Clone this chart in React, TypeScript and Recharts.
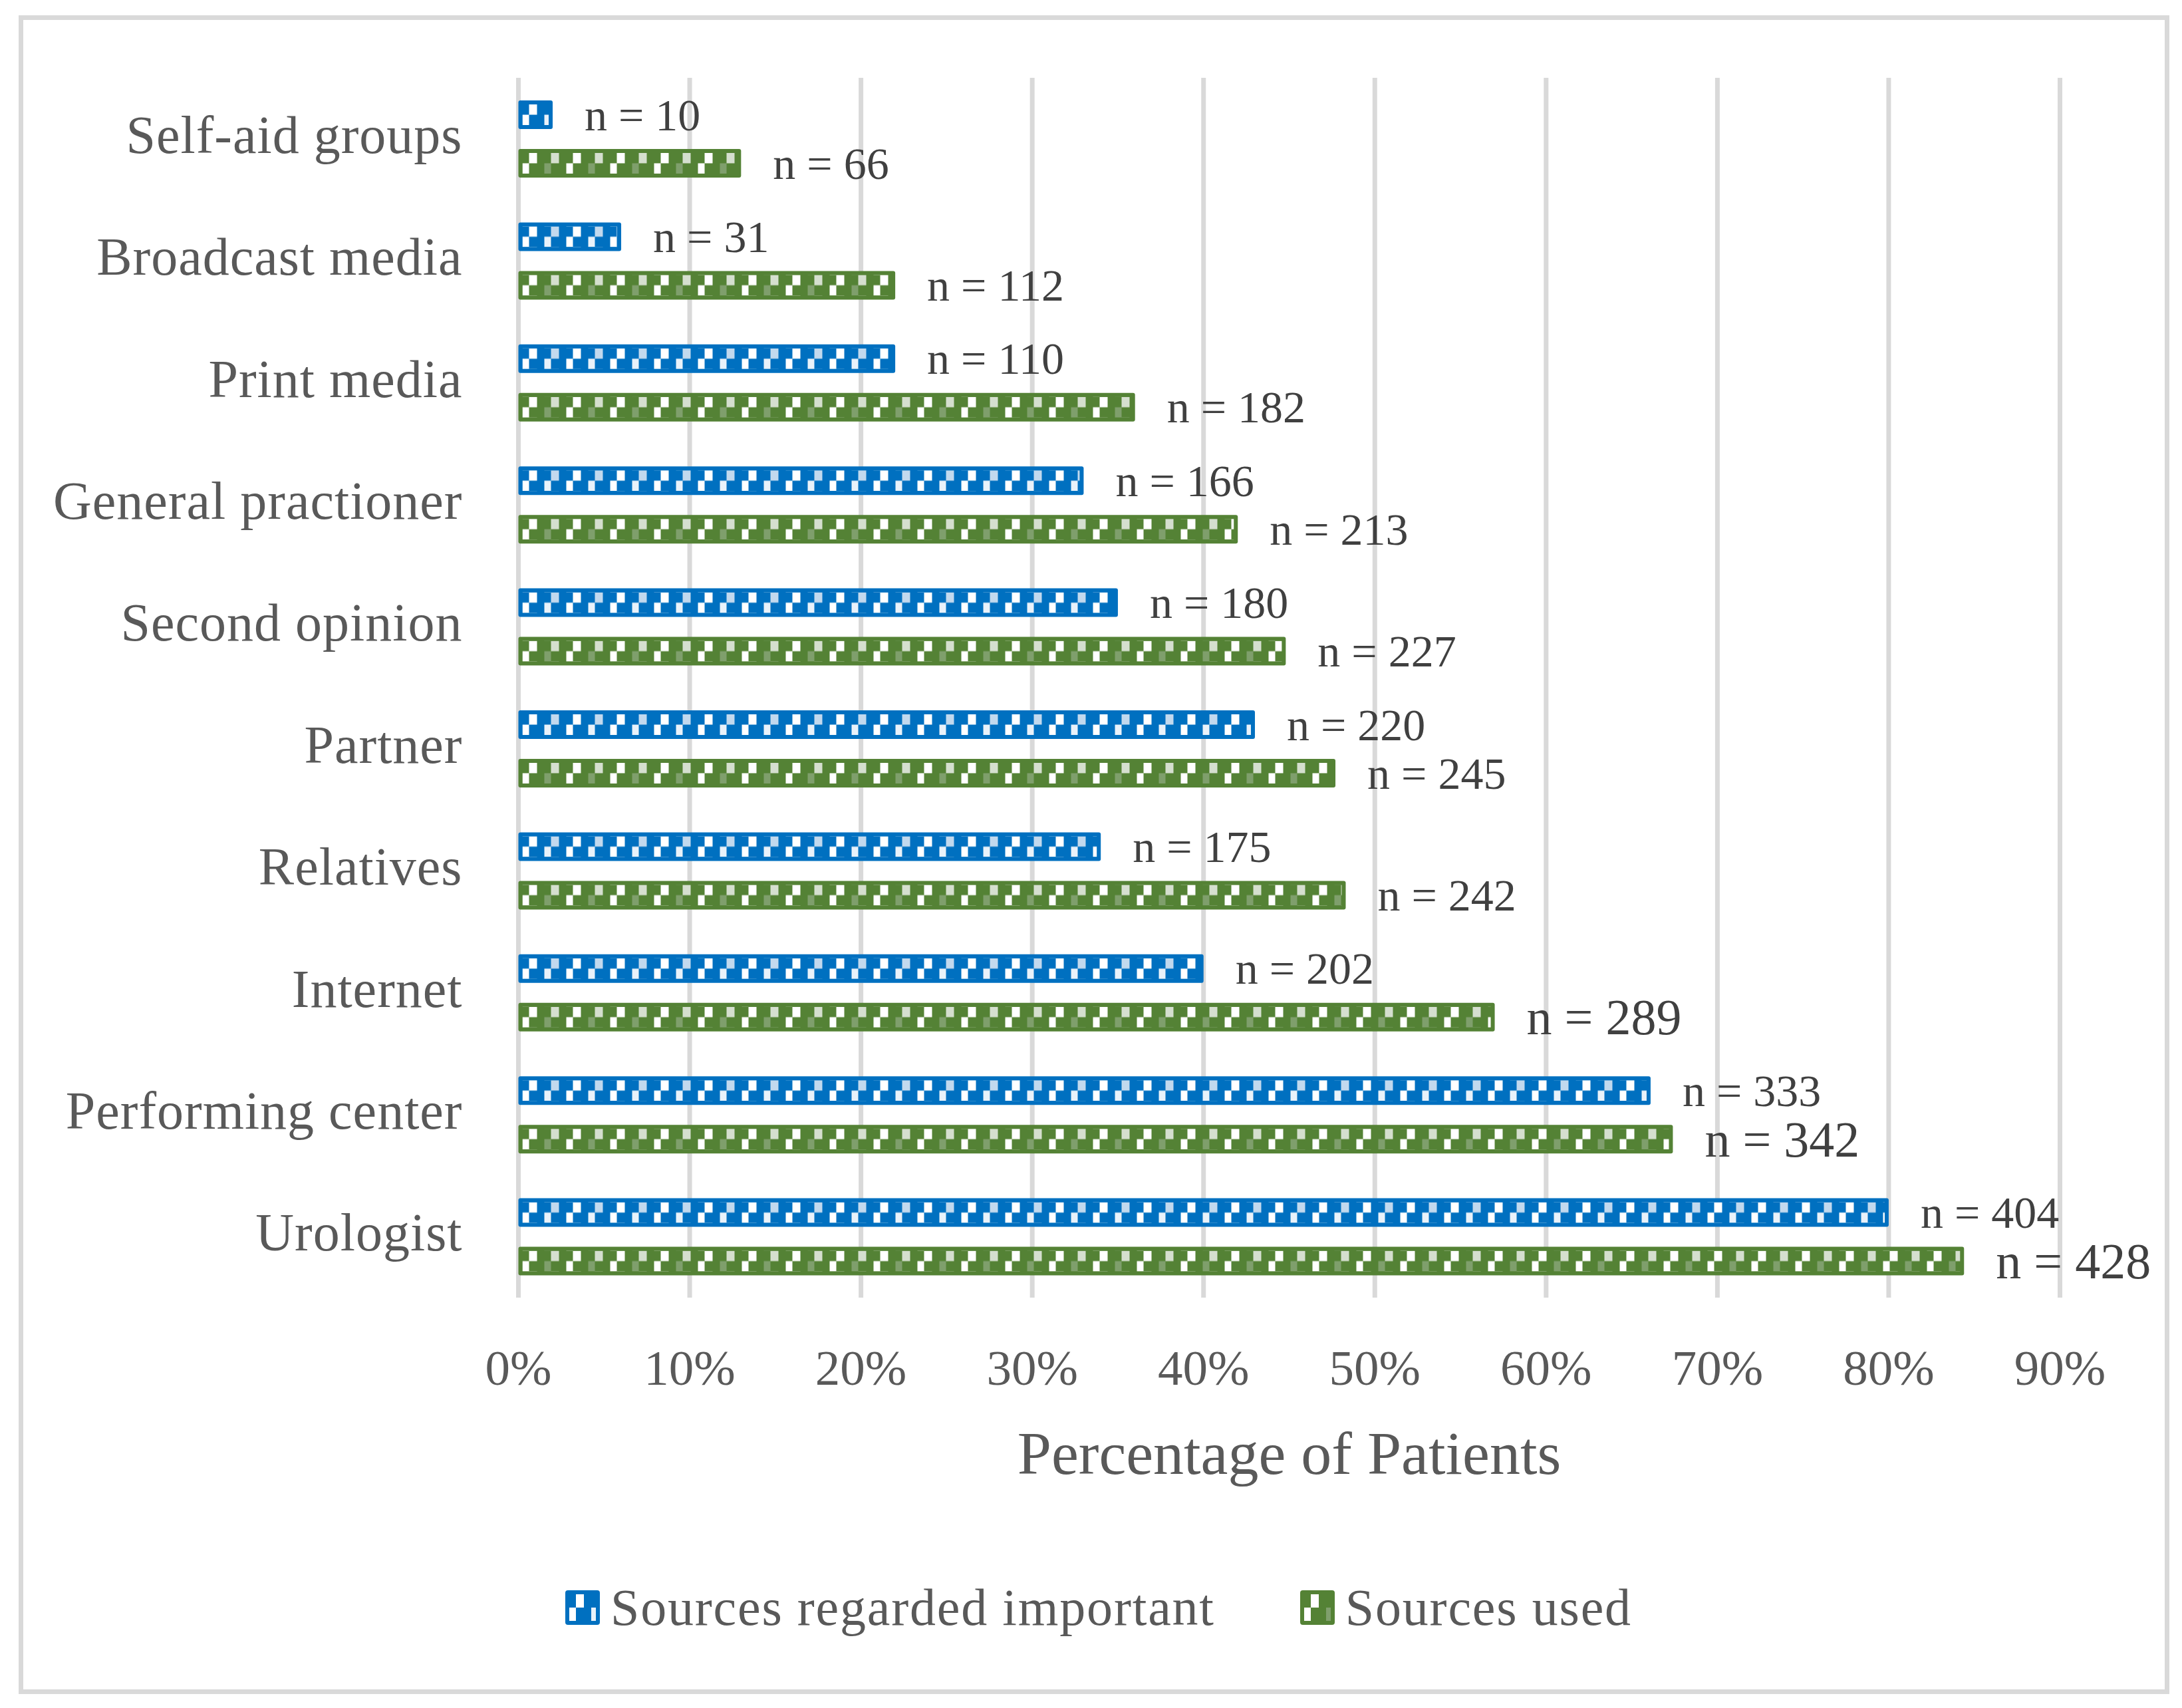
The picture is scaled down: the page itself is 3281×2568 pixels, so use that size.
import { BarChart, Bar, XAxis, YAxis, CartesianGrid, Legend, LabelList } from "recharts";

// categories top to bottom
const CATEGORIES = [
  "Self-aid groups",
  "Broadcast media",
  "Print media",
  "General practioner",
  "Second opinion",
  "Partner",
  "Relatives",
  "Internet",
  "Performing center",
  "Urologist",
];

// percentage of patients and counts (from the labels)
const IMPORTANT_PCT = [2.0, 6.0, 22.0, 33.0, 35.0, 43.0, 34.0, 40.0, 66.1, 80.0];
const IMPORTANT_N = [10, 31, 110, 166, 180, 220, 175, 202, 333, 404];
const USED_PCT = [13.0, 22.0, 36.0, 42.0, 44.8, 47.7, 48.3, 57.0, 67.4, 84.4];
const USED_N = [66, 112, 182, 213, 227, 245, 242, 289, 342, 428];

const X_TICKS = [0, 10, 20, 30, 40, 50, 60, 70, 80, 90];

// the three bottom "used" labels are set a size larger in the original
const LARGE_USED_LABELS = new Set(["Internet", "Performing center", "Urologist"]);

const FONT = '"Liberation Serif", "Times New Roman", serif';
const BLUE = "#0070C0";
const GREEN = "#548235";
const TINTS: Record<string, [string, string]> = {
  blue: ["#c2d9ee", "#e9f2fa"],
  green: ["#d5dfcf", "#7f9f6c"],
};

const data = CATEGORIES.map((name, i) => ({
  name,
  important: IMPORTANT_PCT[i],
  importantN: IMPORTANT_N[i],
  used: USED_PCT[i],
  usedN: USED_N[i],
}));

function PatternTile({ id, x, y, h, color, kind }: any) {
  const r = h / 2;
  const [tintA, tintB] = TINTS[kind];
  return (
    <pattern id={id} patternUnits="userSpaceOnUse" x={x} y={y} width={66} height={h}>
      <rect width={66} height={h} fill={color} />
      <rect x={10} y={0} width={12} height={r} fill="#ffffff" />
      <rect x={43} y={0} width={12} height={r} fill={tintA} />
      <rect x={0} y={r} width={10} height={h - r} fill="#ffffff" />
      <rect x={33} y={r} width={10} height={h - r} fill={tintB} />
    </pattern>
  );
}

function PatternBar(props: any) {
  const { x, y, width, height, fill, index, kind } = props;
  if (!width || width <= 0) return null;
  const b = 6;
  const id = `pat-${kind}-${index}`;
  const ih = Math.max(0, height - 2 * b);
  return (
    <g>
      <defs>
        <PatternTile id={id} x={x + b} y={y + b} h={ih} color={fill} kind={kind} />
      </defs>
      <rect x={x} y={y} width={width} height={height} rx={3} ry={3} fill={fill} />
      <rect x={x + b} y={y + b} width={Math.max(0, width - 2 * b)} height={ih} fill={`url(#${id})`} />
    </g>
  );
}

function makeLabel(large: (i: number) => boolean) {
  return (props: any) => {
    const { x, y, width, height, value, index } = props;
    const fs = large(index) ? 76 : 68;
    return (
      <text
        x={x + width + 48}
        y={y + height / 2 + fs * 0.34}
        fontFamily={FONT}
        fontSize={fs}
        fill="#404040"
      >
        {`n = ${value}`}
      </text>
    );
  };
}

function CategoryTick({ x, y, payload }: any) {
  return (
    <text
      x={x + 4}
      y={y + 21}
      textAnchor="end"
      fontFamily={FONT}
      fontSize={80}
      letterSpacing={1}
      fill="#595959"
    >
      {payload.value}
    </text>
  );
}

function PercentTick({ x, y, payload }: any) {
  return (
    <text x={x} y={y + 131} textAnchor="middle" fontFamily={FONT} fontSize={75} fill="#595959">
      {`${payload.value}%`}
    </text>
  );
}

function AxisTitle({ viewBox }: any) {
  if (!viewBox) return null;
  return (
    <text
      x={viewBox.x + viewBox.width / 2}
      y={viewBox.y + 265}
      textAnchor="middle"
      fontFamily={FONT}
      fontSize={92}
      fill="#595959"
    >
      Percentage of Patients
    </text>
  );
}

function Swatch({ kind, color }: any) {
  const id = `legend-pat-${kind}`;
  return (
    <svg width={52} height={52} style={{ display: "block" }}>
      <defs>
        <PatternTile id={id} x={6} y={6} h={40} color={color} kind={kind} />
      </defs>
      <rect x={0} y={0} width={52} height={52} rx={4} ry={4} fill={color} />
      <rect x={6} y={6} width={40} height={40} fill={`url(#${id})`} />
    </svg>
  );
}

function LegendContent({ payload }: any) {
  return (
    <div style={{ display: "flex", alignItems: "center", paddingLeft: 850, height: 52 }}>
      {(payload || []).map((entry: any) => (
        <div key={entry.value} style={{ display: "flex", alignItems: "center", marginRight: 128 }}>
          <Swatch kind={entry.dataKey === "important" ? "blue" : "green"} color={entry.color} />
          <span
            style={{
              marginLeft: 16,
              fontFamily: FONT,
              fontSize: 78,
              lineHeight: 1,
              letterSpacing: 1.8,
              color: "#595959",
              whiteSpace: "nowrap",
            }}
          >
            {entry.value}
          </span>
        </div>
      ))}
    </div>
  );
}

export default function App() {
  return (
    <div style={{ position: "absolute", left: 0, top: 0, width: 3281, height: 2568, background: "#ffffff" }}>
      <div
        style={{
          position: "absolute",
          left: 28,
          top: 23,
          width: 3234,
          height: 2524,
          border: "7px solid #d9d9d9",
          boxSizing: "border-box",
        }}
      />
      <BarChart
        width={3281}
        height={2568}
        data={data}
        layout="vertical"
        margin={{ top: 117, right: 183.5, bottom: 417, left: 0 }}
        barSize={43}
        barGap={30}
      >
        <CartesianGrid horizontal={false} stroke="#d9d9d9" strokeWidth={7} />
        <XAxis
          type="number"
          domain={[0, 90]}
          ticks={X_TICKS}
          interval={0}
          axisLine={false}
          tickLine={false}
          tickSize={0}
          tickMargin={0}
          height={200}
          tick={<PercentTick />}
          label={<AxisTitle />}
        />
        <YAxis
          type="category"
          dataKey="name"
          width={779.5}
          axisLine={false}
          tickLine={false}
          tickSize={0}
          tickMargin={88}
          interval={0}
          tick={<CategoryTick />}
        />
        <Legend
          verticalAlign="middle"
          align="center"
          layout="horizontal"
          wrapperStyle={{ left: 0, top: 2391, width: 3281 }}
          content={<LegendContent />}
        />
        <Bar
          dataKey="important"
          name="Sources regarded important"
          fill={BLUE}
          isAnimationActive={false}
          shape={(p: any) => <PatternBar {...p} kind="blue" />}
        >
          <LabelList dataKey="importantN" content={makeLabel(() => false)} />
        </Bar>
        <Bar
          dataKey="used"
          name="Sources used"
          fill={GREEN}
          isAnimationActive={false}
          shape={(p: any) => <PatternBar {...p} kind="green" />}
        >
          <LabelList
            dataKey="usedN"
            content={makeLabel((i) => LARGE_USED_LABELS.has(CATEGORIES[i]))}
          />
        </Bar>
      </BarChart>
    </div>
  );
}
